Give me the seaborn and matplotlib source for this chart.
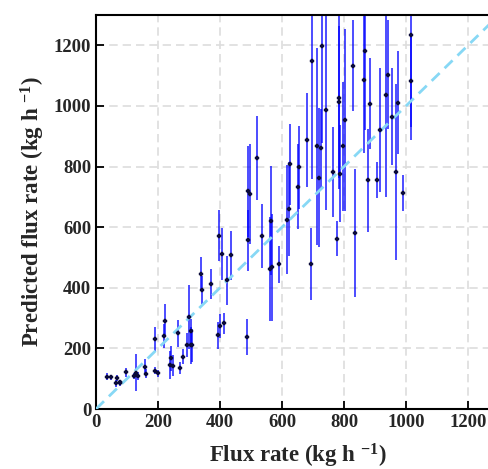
import matplotlib
matplotlib.use("Agg")
import matplotlib.pyplot as plt
import seaborn as sns
import pandas as pd

# measured flux rate (kg/h)
flux = [35, 49, 65, 69, 77, 79, 96, 121, 128, 134, 158, 160, 189, 191, 199,
        220, 223, 239, 243, 247, 265, 271, 282, 295, 301, 305, 307, 309,
        339, 343, 370, 395, 399, 414, 398, 406, 423, 434, 487, 491, 497,
        491, 518, 534, 563, 561, 568, 591, 617, 621, 626, 652, 656, 681,
        694, 697, 712, 719, 725, 729, 742, 763, 777, 783, 785, 787, 797,
        802, 835, 828, 863, 869, 877, 885, 905, 916, 936, 943, 955, 969,
        975, 991, 1017, 1017]
# predicted flux rate (kg/h)
pred = [107, 105, 85, 101, 85, 88, 121, 109, 120, 109, 139, 116, 126, 230, 118,
        242, 292, 145, 167, 143, 250, 134, 173, 212, 303, 256, 210, 210,
        445, 393, 413, 243, 274, 283, 572, 512, 424, 507, 238, 718, 711,
        556, 828, 570, 621, 462, 467, 477, 625, 660, 807, 733, 798, 889,
        478, 1149, 867, 763, 860, 1197, 985, 782, 562, 1013, 1027, 776, 867,
        954, 581, 1132, 1086, 1180, 755, 1007, 755, 920, 1037, 1103, 964, 782,
        1010, 713, 1234, 1082]
# uncertainty of prediction
err = [12, 8, 12, 10, 10, 8, 15, 10, 60, 12, 25, 15, 12, 40, 12,
       40, 55, 45, 40, 35, 45, 20, 25, 40, 105, 40, 60, 55,
       55, 45, 50, 45, 40, 35, 85, 85, 80, 80, 60, 150, 165,
       100, 140, 105, 180, 170, 175, 60, 180, 155, 135, 140, 137, 155,
       120, 390, 325, 230, 130, 320, 330, 150, 58, 250, 300, 160, 213,
       300, 210, 150, 240, 260, 170, 150, 60, 205, 337, 180, 160, 290,
       170, 60, 345, 150]

df = pd.DataFrame({"flux": flux, "pred": pred, "err": err})

sns.set_theme(style="ticks")
plt.rcParams["font.family"] = ["Liberation Serif", "DejaVu Serif"]
plt.rcParams["font.weight"] = "bold"
plt.rcParams["mathtext.fontset"] = "custom"
plt.rcParams["mathtext.rm"] = "Liberation Serif:bold"
plt.rcParams["mathtext.it"] = "Liberation Serif:bold"
plt.rcParams["mathtext.bf"] = "Liberation Serif:bold"
plt.rcParams["mathtext.default"] = "regular"

fig = plt.figure(figsize=(4.89, 4.69), dpi=100)
ax = fig.add_axes([96 / 489, 60 / 469, 403 / 489, 394 / 469])

ax.grid(True, color="#dddddd", linestyle="--", linewidth=1.2, dashes=(5, 3))
ax.set_axisbelow(True)

ax.errorbar(df["flux"], df["pred"], yerr=df["err"], fmt="none",
            ecolor="blue", elinewidth=1.4, alpha=0.7, capsize=0, zorder=2)
sns.scatterplot(data=df, x="flux", y="pred", ax=ax, color="#0a0a3a",
                marker="P", s=9, edgecolor="#0a0a3a", linewidth=0.3, zorder=4)
ax.axline((0, 0), slope=1, color="#87d8f5", linestyle="--", linewidth=2,
          dashes=(4, 2.5), zorder=3)

ax.set_xlim(0, 1300)
ax.set_ylim(0, 1300)
ax.set_xticks([0, 200, 400, 600, 800, 1000, 1200])
ax.set_yticks([0, 200, 400, 600, 800, 1000, 1200])
ax.tick_params(direction="in", length=6, width=1.3, labelsize=13.5, color="black")
for lab in ax.get_xticklabels() + ax.get_yticklabels():
    lab.set_fontweight("bold")
for side in ["left", "bottom", "top", "right"]:
    ax.spines[side].set_linewidth(1.5)
    ax.spines[side].set_color("black")

ax.set_xlabel(r"Flux rate (kg h $^{-1}$)", fontsize=16.5, fontweight="bold", labelpad=8)
ax.set_ylabel(r"Predicted flux rate (kg h $^{-1}$)", fontsize=16.5, fontweight="bold", labelpad=5)

plt.savefig("out.png", dpi=100)
plt.close()
